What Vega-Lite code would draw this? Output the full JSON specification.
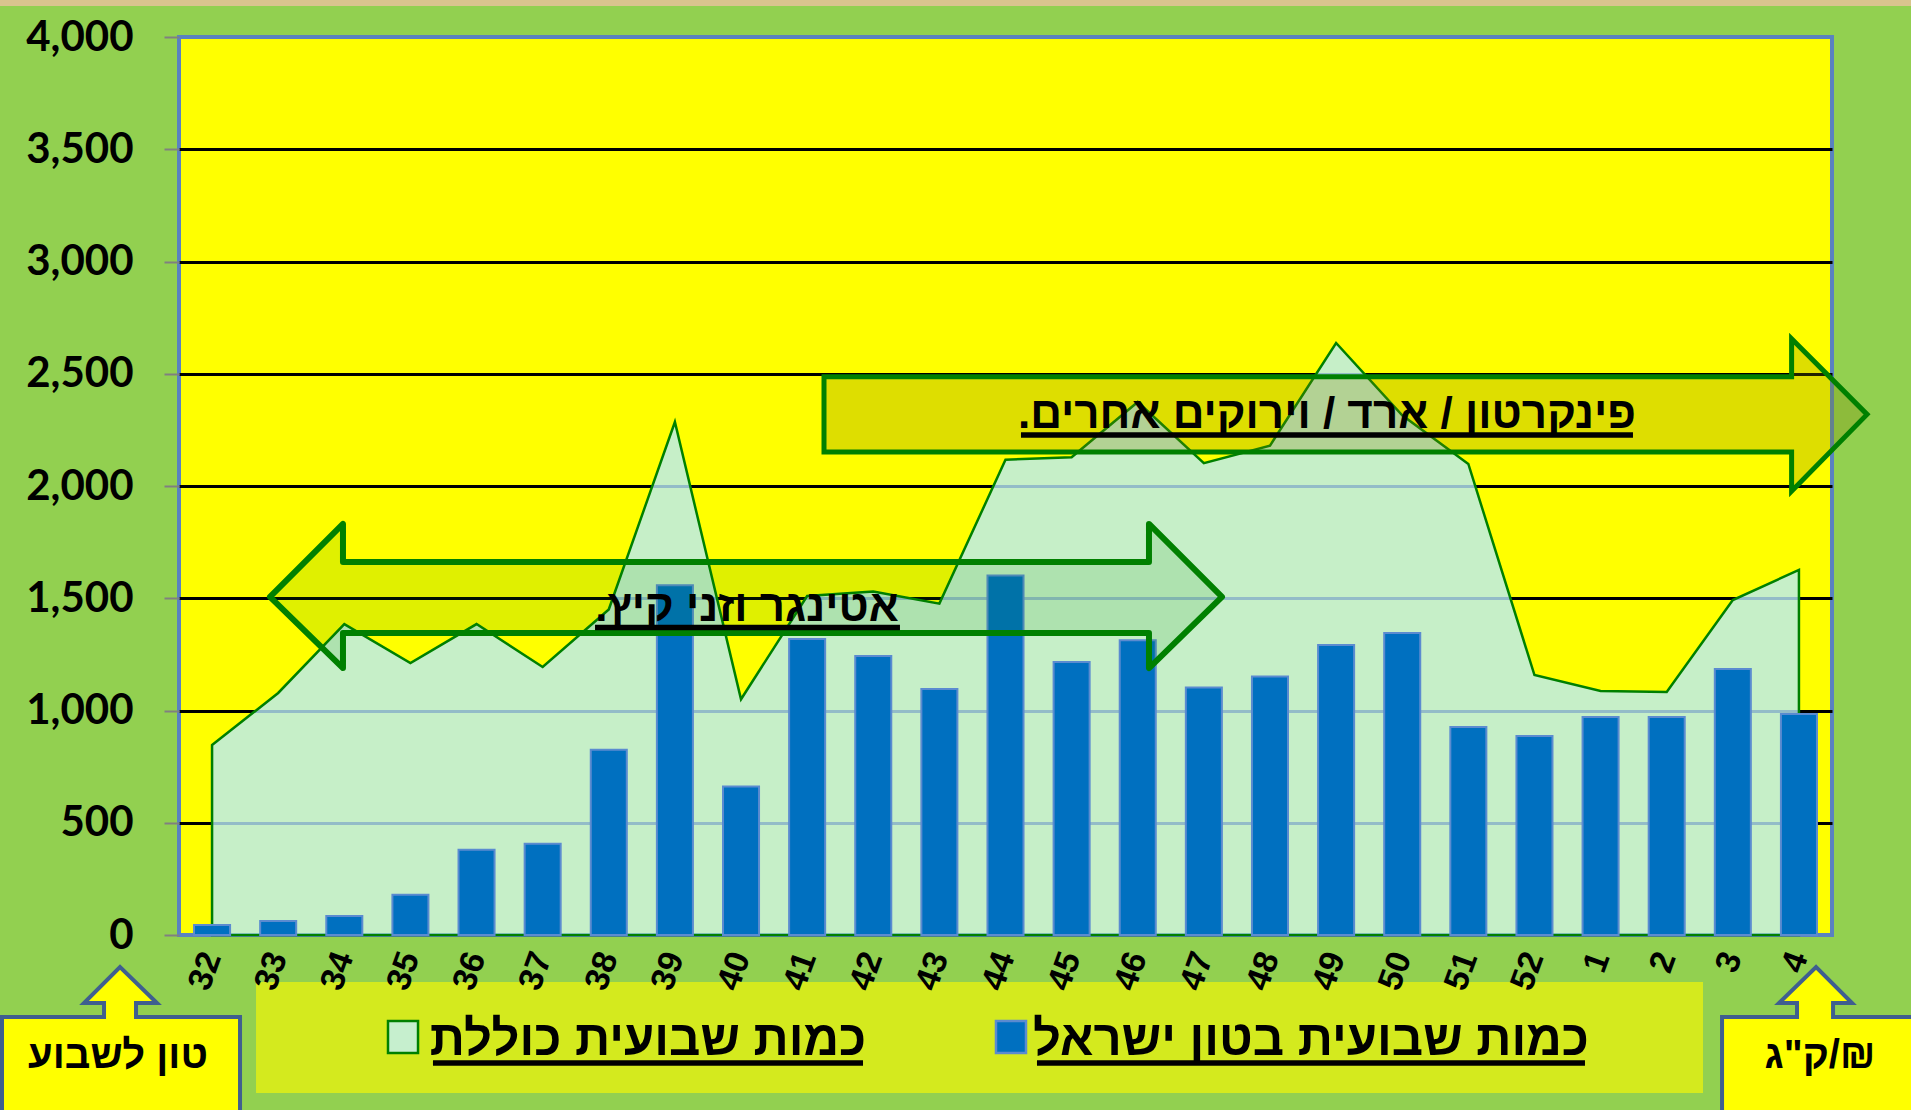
{
  "$schema": "https://vega.github.io/schema/vega-lite/v6.json",
  "autosize": {"type": "none"},
  "padding": {"left": 179, "top": 37, "right": 79, "bottom": 175},
  "width": 1653,
  "height": 898,
  "background": "#92d050",
  "config": {
    "view": {"fill": "#ffff00", "stroke": "#5a82c0", "strokeWidth": 4}
  },
  "datasets": {
    "weeks": [
      {"week": "32", "israel": 45, "total": 846},
      {"week": "33", "israel": 62, "total": 1078},
      {"week": "34", "israel": 85, "total": 1385},
      {"week": "35", "israel": 179, "total": 1211},
      {"week": "36", "israel": 380, "total": 1385},
      {"week": "37", "israel": 407, "total": 1194},
      {"week": "38", "israel": 825, "total": 1450},
      {"week": "39", "israel": 1558, "total": 2285},
      {"week": "40", "israel": 662, "total": 1050},
      {"week": "41", "israel": 1319, "total": 1510},
      {"week": "42", "israel": 1243, "total": 1530},
      {"week": "43", "israel": 1096, "total": 1476},
      {"week": "44", "israel": 1601, "total": 2117},
      {"week": "45", "israel": 1216, "total": 2128},
      {"week": "46", "israel": 1313, "total": 2374},
      {"week": "47", "israel": 1102, "total": 2102},
      {"week": "48", "israel": 1151, "total": 2180},
      {"week": "49", "israel": 1292, "total": 2637},
      {"week": "50", "israel": 1345, "total": 2315},
      {"week": "51", "israel": 926, "total": 2098},
      {"week": "52", "israel": 886, "total": 1158},
      {"week": "1", "israel": 971, "total": 1087},
      {"week": "2", "israel": 971, "total": 1082},
      {"week": "3", "israel": 1185, "total": 1492},
      {"week": "4", "israel": 984, "total": 1626}
    ],
    "arrow1": [
      {"k": 0, "ax": 0.876, "v": 1506},
      {"k": 1, "ax": 1.98, "v": 1831},
      {"k": 2, "ax": 1.98, "v": 1662},
      {"k": 3, "ax": 14.17, "v": 1662},
      {"k": 4, "ax": 14.17, "v": 1831},
      {"k": 5, "ax": 15.274, "v": 1506},
      {"k": 6, "ax": 14.17, "v": 1189},
      {"k": 7, "ax": 14.17, "v": 1345},
      {"k": 8, "ax": 1.98, "v": 1345},
      {"k": 9, "ax": 1.98, "v": 1189}
    ],
    "arrow2": [
      {"k": 0, "ax": 9.255, "v": 2487},
      {"k": 1, "ax": 23.889, "v": 2487},
      {"k": 2, "ax": 23.889, "v": 2656},
      {"k": 3, "ax": 25.03, "v": 2319},
      {"k": 4, "ax": 23.889, "v": 1977},
      {"k": 5, "ax": 23.889, "v": 2151},
      {"k": 6, "ax": 9.255, "v": 2151}
    ],
    "boxL": [
      {"k": 0, "ax": -3.177, "v": -365},
      {"k": 1, "ax": -1.634, "v": -365},
      {"k": 2, "ax": -1.634, "v": -303},
      {"k": 3, "ax": -1.937, "v": -303},
      {"k": 4, "ax": -1.392, "v": -142.5},
      {"k": 5, "ax": -0.833, "v": -303},
      {"k": 6, "ax": -1.15, "v": -303},
      {"k": 7, "ax": -1.15, "v": -365},
      {"k": 8, "ax": 0.423, "v": -365},
      {"k": 9, "ax": 0.423, "v": -802},
      {"k": 10, "ax": -3.177, "v": -802}
    ],
    "boxR": [
      {"k": 0, "ax": 22.837, "v": -365},
      {"k": 1, "ax": 23.971, "v": -365},
      {"k": 2, "ax": 23.971, "v": -303},
      {"k": 3, "ax": 23.699, "v": -303},
      {"k": 4, "ax": 24.259, "v": -142.5},
      {"k": 5, "ax": 24.803, "v": -303},
      {"k": 6, "ax": 24.516, "v": -303},
      {"k": 7, "ax": 24.516, "v": -365},
      {"k": 8, "ax": 25.756, "v": -365},
      {"k": 9, "ax": 25.756, "v": -802},
      {"k": 10, "ax": 22.837, "v": -802}
    ],
    "arrowText": [
      {"ax": 8.09, "v": 1399, "label": "\u200fאטינגר וזני קיץ.\u200f"},
      {"ax": 16.862, "v": 2258, "label": "\u200fפינקרטון / ארד / וירוקים אחרים.\u200f"}
    ],
    "underlines": [
      {"ax": 5.792, "ax2": 10.404, "v": 1370},
      {"ax": 12.234, "ax2": 21.49, "v": 2227},
      {"ax": 3.341, "ax2": 9.845, "v": -570},
      {"ax": 12.476, "ax2": 20.764, "v": -570}
    ],
    "legendBox": [{"ax": 0.665, "ax2": 22.549, "v": -209.4, "v2": -703.8}],
    "legendSq1": [{"ax": 2.661, "ax2": 3.115, "v": -383, "v2": -525.6}],
    "legendSq2": [{"ax": 11.856, "ax2": 12.31, "v": -383, "v2": -525.6}],
    "legendText": [
      {"ax": 6.593, "v": -534.5, "label": "\u200fכמות שבועית כוללת\u200f"},
      {"ax": 16.62, "v": -534.5, "label": "\u200fכמות שבועית בטון ישראל\u200f"}
    ],
    "boxText": [
      {"ax": -1.423, "v": -592, "label": "\u200fטון לשבוע\u200f"},
      {"ax": 24.318, "v": -592, "label": "\u200f₪/ק\"ג\u200f"}
    ],
    "topStrip": [{"ax": -3.3, "ax2": 25.9, "v": 4166, "v2": 4138}]
  },
  "resolve": {"scale": {"x": "independent"}},
  "layer": [
    {
      "data": {"name": "weeks"},
      "layer": [
        {
          "mark": {"type": "area", "fill": "#b8ebfa", "fillOpacity": 0.8, "stroke": "#008000", "strokeWidth": 2.5},
          "encoding": {
            "x": {"field": "week", "type": "nominal", "sort": null},
            "y": {"field": "total", "type": "quantitative", "title": null, "scale": {"domain": [0, 4000], "nice": false}}
          }
        },
        {
          "mark": {"type": "bar", "fill": "#0070c0", "stroke": "#5b8bd0", "strokeWidth": 2},
          "encoding": {
            "x": {
              "field": "week", "type": "nominal", "sort": null, "title": null,
              "scale": {"paddingInner": 0.455, "paddingOuter": 0.2275},
              "axis": {
                "labelAngle": -70, "labelFont": "Liberation Sans", "labelFontSize": 34,
                "labelFontWeight": "bold", "labelColor": "#000000", "ticks": false,
                "domain": false, "labelPadding": 18, "zindex": 1
              }
            },
            "y": {
              "field": "israel", "type": "quantitative", "title": null,
              "scale": {"domain": [0, 4000], "nice": false},
              "axis": {
                "values": [0, 500, 1000, 1500, 2000, 2500, 3000, 3500, 4000],
                "format": ",.0f", "labelFont": "Lato", "labelFontSize": 42,
                "labelFontWeight": "bold", "labelColor": "#000000",
                "tickColor": "#808080", "tickSize": 15, "tickWidth": 2,
                "labelPadding": 31, "domain": false,
                "gridColor": "#000000", "gridWidth": 3,
                "gridOpacity": {"condition": {"test": "datum.value === 0 || datum.value === 4000", "value": 0}, "value": 1}
              }
            }
          }
        }
      ]
    },
    {
      "data": {"name": "arrow1"},
      "mark": {"type": "line", "interpolate": "linear-closed", "fill": "#008000", "fillOpacity": 0.12, "stroke": "#008000", "strokeWidth": 6, "strokeJoin": "round"},
      "encoding": {
        "x": {"field": "ax", "type": "quantitative", "scale": {"domain": [-0.5, 24.5], "nice": false, "zero": false}, "axis": null},
        "y": {"field": "v", "type": "quantitative", "title": null, "scale": {"domain": [0, 4000], "nice": false}},
        "order": {"field": "k", "type": "quantitative"}
      }
    },
    {
      "data": {"name": "arrow2"},
      "mark": {"type": "line", "interpolate": "linear-closed", "fill": "#808000", "fillOpacity": 0.26, "stroke": "#008000", "strokeWidth": 5},
      "encoding": {
        "x": {"field": "ax", "type": "quantitative", "scale": {"domain": [-0.5, 24.5], "nice": false, "zero": false}, "axis": null},
        "y": {"field": "v", "type": "quantitative", "title": null, "scale": {"domain": [0, 4000], "nice": false}},
        "order": {"field": "k", "type": "quantitative"}
      }
    },
    {
      "data": {"name": "arrowText"},
      "mark": {"type": "text", "font": "Liberation Sans", "fontSize": 44, "fontWeight": "bold", "align": "center", "baseline": "alphabetic", "color": "#000000"},
      "encoding": {
        "x": {"field": "ax", "type": "quantitative", "scale": {"domain": [-0.5, 24.5], "nice": false, "zero": false}, "axis": null},
        "y": {"field": "v", "type": "quantitative", "title": null, "scale": {"domain": [0, 4000], "nice": false}},
        "text": {"field": "label"}
      }
    },
    {
      "data": {"name": "legendBox"},
      "mark": {"type": "rect", "fill": "#d4ea1e"},
      "encoding": {
        "x": {"field": "ax", "type": "quantitative", "scale": {"domain": [-0.5, 24.5], "nice": false, "zero": false}, "axis": null},
        "x2": {"field": "ax2"},
        "y": {"field": "v", "type": "quantitative", "title": null, "scale": {"domain": [0, 4000], "nice": false}},
        "y2": {"field": "v2"}
      }
    },
    {
      "data": {"name": "legendSq1"},
      "mark": {"type": "rect", "fill": "#c6efce", "stroke": "#008000", "strokeWidth": 2.5},
      "encoding": {
        "x": {"field": "ax", "type": "quantitative", "scale": {"domain": [-0.5, 24.5], "nice": false, "zero": false}, "axis": null},
        "x2": {"field": "ax2"},
        "y": {"field": "v", "type": "quantitative", "title": null, "scale": {"domain": [0, 4000], "nice": false}},
        "y2": {"field": "v2"}
      }
    },
    {
      "data": {"name": "legendSq2"},
      "mark": {"type": "rect", "fill": "#0070c0", "stroke": "#5b8bd0", "strokeWidth": 2.5},
      "encoding": {
        "x": {"field": "ax", "type": "quantitative", "scale": {"domain": [-0.5, 24.5], "nice": false, "zero": false}, "axis": null},
        "x2": {"field": "ax2"},
        "y": {"field": "v", "type": "quantitative", "title": null, "scale": {"domain": [0, 4000], "nice": false}},
        "y2": {"field": "v2"}
      }
    },
    {
      "data": {"name": "legendText"},
      "mark": {"type": "text", "font": "Liberation Sans", "fontSize": 49, "fontWeight": "bold", "align": "center", "baseline": "alphabetic", "color": "#000000"},
      "encoding": {
        "x": {"field": "ax", "type": "quantitative", "scale": {"domain": [-0.5, 24.5], "nice": false, "zero": false}, "axis": null},
        "y": {"field": "v", "type": "quantitative", "title": null, "scale": {"domain": [0, 4000], "nice": false}},
        "text": {"field": "label"}
      }
    },
    {
      "data": {"name": "underlines"},
      "mark": {"type": "rule", "stroke": "#000000", "strokeWidth": 5.5},
      "encoding": {
        "x": {"field": "ax", "type": "quantitative", "scale": {"domain": [-0.5, 24.5], "nice": false, "zero": false}, "axis": null},
        "x2": {"field": "ax2"},
        "y": {"field": "v", "type": "quantitative", "title": null, "scale": {"domain": [0, 4000], "nice": false}}
      }
    },
    {
      "data": {"name": "boxL"},
      "mark": {"type": "line", "interpolate": "linear-closed", "fill": "#ffff00", "stroke": "#3f5f8f", "strokeWidth": 4},
      "encoding": {
        "x": {"field": "ax", "type": "quantitative", "scale": {"domain": [-0.5, 24.5], "nice": false, "zero": false}, "axis": null},
        "y": {"field": "v", "type": "quantitative", "title": null, "scale": {"domain": [0, 4000], "nice": false}},
        "order": {"field": "k", "type": "quantitative"}
      }
    },
    {
      "data": {"name": "boxR"},
      "mark": {"type": "line", "interpolate": "linear-closed", "fill": "#ffff00", "stroke": "#3f5f8f", "strokeWidth": 4},
      "encoding": {
        "x": {"field": "ax", "type": "quantitative", "scale": {"domain": [-0.5, 24.5], "nice": false, "zero": false}, "axis": null},
        "y": {"field": "v", "type": "quantitative", "title": null, "scale": {"domain": [0, 4000], "nice": false}},
        "order": {"field": "k", "type": "quantitative"}
      }
    },
    {
      "data": {"name": "boxText"},
      "mark": {"type": "text", "font": "Liberation Sans", "fontSize": 40, "fontWeight": "bold", "align": "center", "baseline": "alphabetic", "color": "#000000"},
      "encoding": {
        "x": {"field": "ax", "type": "quantitative", "scale": {"domain": [-0.5, 24.5], "nice": false, "zero": false}, "axis": null},
        "y": {"field": "v", "type": "quantitative", "title": null, "scale": {"domain": [0, 4000], "nice": false}},
        "text": {"field": "label"}
      }
    },
    {
      "data": {"name": "topStrip"},
      "mark": {"type": "rect", "fill": "#d9c48e"},
      "encoding": {
        "x": {"field": "ax", "type": "quantitative", "scale": {"domain": [-0.5, 24.5], "nice": false, "zero": false}, "axis": null},
        "x2": {"field": "ax2"},
        "y": {"field": "v", "type": "quantitative", "title": null, "scale": {"domain": [0, 4000], "nice": false}},
        "y2": {"field": "v2"}
      }
    }
  ]
}
